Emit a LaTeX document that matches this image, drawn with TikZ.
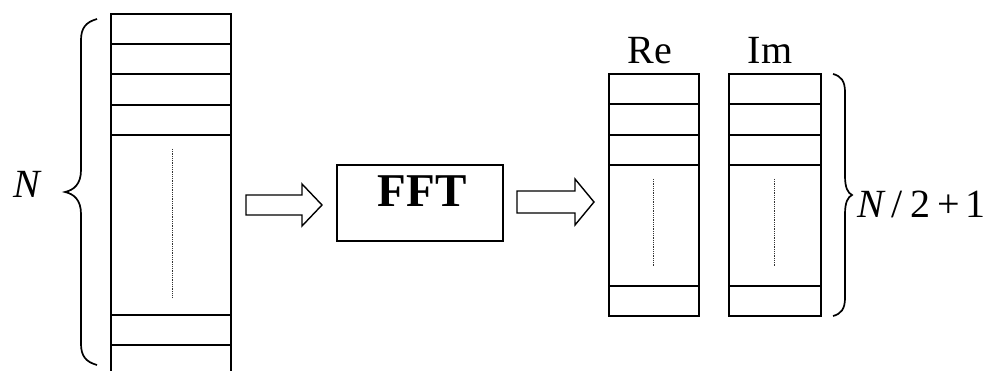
\documentclass[tikz,border=0pt]{standalone}
\usepackage{fontspec}
\setmainfont{Liberation Serif}
\begin{document}
\begin{tikzpicture}[x=1pt,y=-1pt,
  cell/.style={line width=1.5pt},
  dotline/.style={line width=0.9pt, dash pattern=on 0.9pt off 0.9pt, black!80},
  blockarrow/.style={line width=1.4pt, line join=miter},
  bracestyle/.style={line width=1.7pt},
  lbl/.style={font=\fontsize{40}{44}\selectfont, inner sep=0pt}]
\useasboundingbox (0,0) rectangle (985,371);

% left column
\draw[cell] (111,372) -- (111,14) -- (231,14) -- (231,372);
\foreach \y in {44,74,105,135,315,345} \draw[cell] (111,\y) -- (231,\y);
\draw[dotline] (172,149) -- (172,297);

% left brace
\draw[bracestyle] (97,19) .. controls (86,22) and (81,28) .. (81,40)
  -- (81,170) .. controls (81,184) and (74,190) .. (65,192)
  .. controls (74,194) and (81,200) .. (81,214)
  -- (81,344) .. controls (81,356) and (86,362) .. (97,365);
\node[lbl, anchor=base] (N) at (27,198) {\itshape N};

% arrow 1
\draw[blockarrow] (246,195) -- (302,195) -- (302,184) -- (322,205) -- (302,226) -- (302,215) -- (246,215) -- cycle;

% FFT box
\node[draw, line width=1.5pt, minimum width=166pt, minimum height=76pt, inner sep=0pt] (fft) at (420,203) {};
\node[font=\fontsize{47}{50}\selectfont\bfseries, anchor=base, inner sep=0pt] (fftt) at (422,207) {FFT};

% arrow 2
\draw[blockarrow] (517,191) -- (575,191) -- (575,179) -- (594,202) -- (575,225) -- (575,213) -- (517,213) -- cycle;

% Re column
\draw[cell] (609,74) rectangle (699,316);
\foreach \y in {104,135,165,286} \draw[cell] (609,\y) -- (699,\y);
\draw[dotline] (653,179) -- (653,267);
% Im column
\draw[cell] (729,74) rectangle (821,316);
\foreach \y in {104,135,165,286} \draw[cell] (729,\y) -- (821,\y);
\draw[dotline] (774,179) -- (774,267);

\node[lbl, anchor=base] (re) at (650,64) {Re};
\node[lbl, anchor=base] (im) at (770,64) {Im};

% right brace
\draw[bracestyle] (833,74) .. controls (841,76) and (845,81) .. (845,92)
  -- (845,176) .. controls (845,188) and (848,193) .. (852,195)
  .. controls (848,197) and (845,202) .. (845,214)
  -- (845,298) .. controls (845,309) and (841,314) .. (833,316);
\node[lbl, anchor=base west] (half) at (857,218) {\textit{N}\kern6pt/\kern8pt2\kern7pt+\kern5pt1};
\end{tikzpicture}
\end{document}
